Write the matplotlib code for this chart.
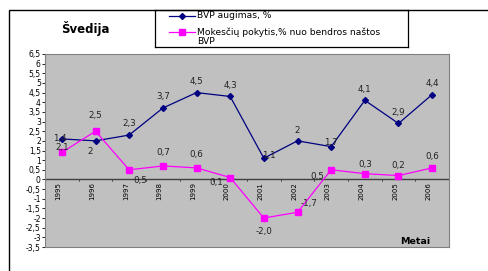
import matplotlib
matplotlib.use("Agg")
import matplotlib.pyplot as plt
from matplotlib.patches import Rectangle
import numpy as np

years = ["1995", "1996", "1997", "1998", "1999", "2000", "2001", "2002", "2003", "2004", "2005", "2006"]
bvp = [2.1, 2.0, 2.3, 3.7, 4.5, 4.3, 1.1, 2.0, 1.7, 4.1, 2.9, 4.4]
mok = [1.4, 2.5, 0.5, 0.7, 0.6, 0.1, -2.0, -1.7, 0.5, 0.3, 0.2, 0.6]
bvp_labels = ["2,1", "2", "2,3", "3,7", "4,5", "4,3", "1,1", "2", "1,7", "4,1", "2,9", "4,4"]
mok_labels = ["1,4", "2,5", "0,5", "0,7", "0,6", "0,1", "-2,0", "-1,7", "0,5", "0,3", "0,2", "0,6"]
yticks = np.arange(-3.5, 6.51, 0.5)

W, H = 489, 271
fig = plt.figure(figsize=(W / 100, H / 100), dpi=100)
fig.patch.set_facecolor("white")

# outer chart frame
fig.add_artist(Rectangle((9 / W, -0.1), 1.2, (H - 10) / H + 0.1, transform=fig.transFigure,
                         fill=False, edgecolor="black", linewidth=1.0))

ax = fig.add_axes([45 / W, (H - 247) / H, (449 - 45) / W, (247 - 54) / H])
ax.set_facecolor("#C0C0C0")
x = np.arange(len(years))
ax.plot(x, bvp, color="#000080", marker="D", markersize=3, linewidth=0.9, zorder=3)
ax.plot(x, mok, color="#FF00FF", marker="s", markersize=4, linewidth=0.9, zorder=3)
ax.set_xlim(-0.5, len(years) - 0.5)
ax.set_ylim(-3.5, 6.5)
ax.set_yticks(yticks)
ax.set_yticklabels([("%g" % v).replace(".", ",") for v in yticks], fontsize=5.5)
ax.tick_params(axis="y", length=2, width=0.6, pad=1)
ax.set_xticks([])
for s in ax.spines.values():
    s.set_color("#808080")
ax.axhline(0, color="#404040", linewidth=1.0, zorder=2)
for i in range(len(years) + 1):
    ax.plot([i - 0.5, i - 0.5], [0, -0.08], color="#404040", linewidth=0.6, zorder=2)
for i, y in enumerate(years):
    ax.text(i - 0.1, -0.15, y, rotation=90, ha="center", va="top", fontsize=5)

fs = 6.3
# BVP labels
bvp_off = [(0, -0.45), (-0.15, -0.55), (0, 0.6), (0, 0.6), (0, 0.6), (0, 0.55), (0.15, 0.15),
           (0, 0.55), (0, 0.2), (0, 0.55), (0, 0.55), (0, 0.55)]
for i, (v, lab) in enumerate(zip(bvp, bvp_labels)):
    dx, dy = bvp_off[i]
    ax.text(i + dx, v + dy, lab, ha="center", va="center", fontsize=fs, color="#222222")
mok_off = [(-0.05, 0.7), (0, 0.8), (0.32, -0.55), (0, 0.7), (0, 0.7), (-0.42, -0.25), (0, -0.7),
           (0.33, 0.45), (-0.42, -0.35), (0, 0.5), (0, 0.5), (0, 0.6)]
for i, (v, lab) in enumerate(zip(mok, mok_labels)):
    dx, dy = mok_off[i]
    ax.text(i + dx, v + dy, lab, ha="center", va="center", fontsize=fs, color="#222222")

ax.text(10.5, -3.2, "Metai", ha="center", va="center", fontsize=6.8, fontweight="bold")

fig.text(85 / W, 1 - 28 / H, "Švedija", ha="center", va="center", fontsize=8.5, fontweight="bold")

# legend
lax = fig.add_axes([155 / W, 1 - 47 / H, (408 - 155) / W, (47 - 10) / H])
lax.set_xlim(0, 253)
lax.set_ylim(37, 0)
lax.set_xticks([]); lax.set_yticks([])
for s in lax.spines.values():
    s.set_linewidth(0.9)
lax.plot([14, 40], [6, 6], color="#000080", linewidth=0.9)
lax.plot([27], [6], color="#000080", marker="D", markersize=3)
lax.text(42, 6, "BVP augimas, %", fontsize=6.6, va="center")
lax.plot([14, 40], [22, 22], color="#FF00FF", linewidth=0.9)
lax.plot([27], [22], color="#FF00FF", marker="s", markersize=4)
lax.text(42, 22, "Mokesčių pokytis,% nuo bendros naštos", fontsize=6.6, va="center")
lax.text(42, 31, "BVP", fontsize=6.6, va="center")

fig.savefig("out.png", dpi=100)
